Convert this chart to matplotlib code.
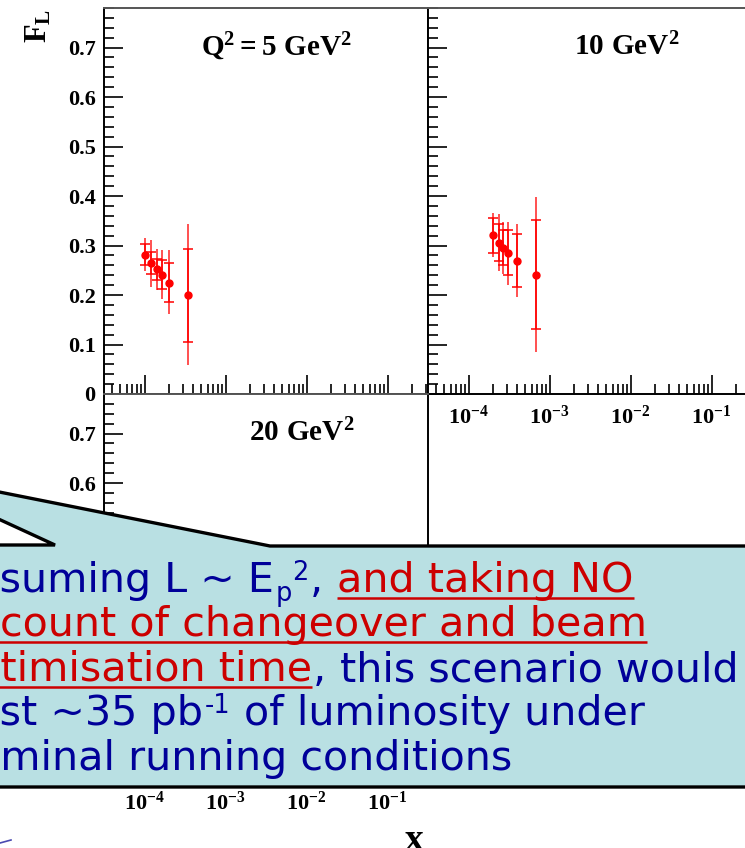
import matplotlib
matplotlib.use('Agg')
import matplotlib.pyplot as plt
import numpy as np
from matplotlib.ticker import LogLocator, MultipleLocator, FuncFormatter, NullFormatter
from matplotlib.patches import Polygon

W, H = 745, 848

# F_L measurements: x, central value, inner (stat) band, outer (total) band
x5 = np.array([1.00e-4, 1.21e-4, 1.41e-4, 1.63e-4, 2.01e-4, 3.44e-4])
fl5 = np.array([0.281, 0.265, 0.252, 0.241, 0.225, 0.200])
stat_lo5 = np.array([0.260, 0.242, 0.230, 0.212, 0.185, 0.106])
stat_hi5 = np.array([0.303, 0.287, 0.273, 0.271, 0.265, 0.294])
tot_lo5 = np.array([0.248, 0.217, 0.210, 0.192, 0.161, 0.059])
tot_hi5 = np.array([0.315, 0.311, 0.293, 0.291, 0.290, 0.343])

x10 = np.array([2.00e-4, 2.39e-4, 2.67e-4, 3.08e-4, 3.97e-4, 6.75e-4])
fl10 = np.array([0.321, 0.306, 0.296, 0.285, 0.269, 0.241])
stat_lo10 = np.array([0.285, 0.268, 0.260, 0.240, 0.217, 0.131])
stat_hi10 = np.array([0.355, 0.343, 0.331, 0.331, 0.323, 0.352])
tot_lo10 = np.array([0.276, 0.248, 0.242, 0.221, 0.197, 0.085])
tot_hi10 = np.array([0.365, 0.364, 0.348, 0.348, 0.343, 0.398])

panel_titles = [r'$\mathbf{Q^{2} = 5\ GeV^{2}}$', r'$\mathbf{10\ GeV^{2}}$', r'$\mathbf{20\ GeV^{2}}$']

plt.rcParams['font.family'] = 'Liberation Serif'
plt.rcParams['font.weight'] = 'bold'
plt.rcParams['mathtext.fontset'] = 'custom'
plt.rcParams['mathtext.rm'] = 'Liberation Serif:bold'
plt.rcParams['mathtext.bf'] = 'Liberation Serif:bold'
plt.rcParams['mathtext.it'] = 'Liberation Serif:bold'

fig = plt.figure(figsize=(W / 100, H / 100), dpi=100)


def box(x0, y0, x1, y1):
    return [x0 / W, 1 - y1 / H, (x1 - x0) / W, (y1 - y0) / H]


ax5 = fig.add_axes(box(104, 8, 428, 394))
ax10 = fig.add_axes(box(428, 8, 752, 394))
ax20 = fig.add_axes(box(104, 394, 428, 780))


def style(ax, ylab, xlab):
    ax.set_xscale('log')
    ax.set_xlim(10 ** -4.5, 10 ** -0.5)
    ax.set_ylim(0, 0.78)
    ax.xaxis.set_major_locator(LogLocator(base=10, numticks=10))
    ax.xaxis.set_minor_locator(LogLocator(base=10, subs=np.arange(2, 10), numticks=20))
    ax.xaxis.set_major_formatter(FuncFormatter(lambda v, p: r'$\mathbf{10^{%d}}$' % round(np.log10(v))))
    ax.xaxis.set_minor_formatter(NullFormatter())
    ax.yaxis.set_major_locator(MultipleLocator(0.1))
    ax.yaxis.set_minor_locator(MultipleLocator(0.02))
    ax.yaxis.set_major_formatter(FuncFormatter(lambda v, p: '0' if abs(v) < 1e-9 else '%.1f' % v))
    ax.tick_params(which='both', direction='in', top=False, right=False, width=1.2,
                   labelsize=16, labelleft=ylab, labelbottom=xlab)
    ax.tick_params(axis='y', which='major', length=14, pad=6)
    ax.tick_params(axis='y', which='minor', length=7)
    ax.tick_params(axis='x', which='major', length=14, pad=8)
    ax.tick_params(axis='x', which='minor', length=7)
    for s in ax.spines.values():
        s.set_linewidth(1.4)
    ax.spines['top'].set_color('#555555')


style(ax5, True, False)
style(ax10, False, True)
style(ax20, True, True)

for ax, x, y, slo, shi, tlo, thi in [(ax5, x5, fl5, stat_lo5, stat_hi5, tot_lo5, tot_hi5),
                                     (ax10, x10, fl10, stat_lo10, stat_hi10, tot_lo10, tot_hi10)]:
    ax.errorbar(x, y, yerr=[y - tlo, thi - y], fmt='none', ecolor='#ff2020', elinewidth=1.1)
    ax.errorbar(x, y, yerr=[y - slo, shi - y], fmt='o', color='red', ms=5,
                elinewidth=1.1, capsize=3.5, capthick=1.1)

ax5.text(0.531, 0.899, panel_titles[0], transform=ax5.transAxes, ha='center', va='center', fontsize=21)
ax10.text(0.614, 0.899, panel_titles[1], transform=ax10.transAxes, ha='center', va='center', fontsize=21)
ax20.text(0.611, 0.899, panel_titles[2], transform=ax20.transAxes, ha='center', va='center', fontsize=21)

# overlay in pixel units for the axis labels and the callout
ov = fig.add_axes([0, 0, 1, 1], zorder=10)
ov.set_xlim(0, W)
ov.set_ylim(H, 0)
ov.axis('off')
ov.patch.set_alpha(0)

ov.text(39, 26, r'$\mathbf{F_L}$', rotation=90, ha='center', va='center', fontsize=22)
ov.text(414, 840, 'x', ha='center', va='center', fontsize=27)
ov.plot([0, 11], [843, 840], color='#4a4ab0', lw=1.2)

bubble = [(-30, 545), (55, 545), (-106, 471), (270, 546), (780, 546), (780, 787), (-30, 787)]
ov.add_patch(Polygon(bubble, closed=True, facecolor='#b9e0e3', edgecolor='black',
                     lw=2.4, joinstyle='miter'))

BLUE = '#000099'
RED = '#cc0000'
FS = 29.7
SANS = 'DejaVu Sans'

fig.canvas.draw()
renderer = fig.canvas.get_renderer()


def width(s, size=FS):
    t = ov.text(0, 0, s, fontsize=size, family=SANS, weight='normal')
    w = t.get_window_extent(renderer).width
    t.remove()
    return w


space = width('n n') - width('nn')

# each line: hidden lead-in, then (text, colour, kind) pieces; None = word gap
lines = [
    ('As', [('Assuming L ~ E', BLUE, ''), ('p', BLUE, 'sub'), ('2', BLUE, 'sup'), (',', BLUE, ''),
            None, ('and taking NO', RED, 'u')]),
    ('ac', [('account of changeover and beam', RED, 'u')]),
    ('op', [('optimisation time', RED, 'u'), (',', BLUE, ''), None, ('this scenario would', BLUE, '')]),
    ('lo', [('lost ~35 pb', BLUE, ''), ('-1', BLUE, 'sup'), None, ('of luminosity under', BLUE, '')]),
    ('no', [('nominal running conditions', BLUE, '')]),
]
baselines = [592, 636, 681, 725, 770]

for (lead, pieces), yb in zip(lines, baselines):
    x = -width(lead)
    for piece in pieces:
        if piece is None:
            x += space
            continue
        s, c, kind = piece
        size, dy = FS, 0
        if kind == 'sub':
            size, dy = FS * 0.62, 9
        elif kind == 'sup':
            size, dy = FS * 0.62, -12
        t = ov.text(x, yb + dy, s, color=c, fontsize=size, family=SANS, weight='normal',
                    ha='left', va='baseline')
        w = t.get_window_extent(renderer).width
        if kind == 'u':
            ov.plot([x, x + w], [yb + 6, yb + 6], color=c, lw=1.8, solid_capstyle='butt')
        x += w + 1

fig.savefig('out.png', dpi=100)
